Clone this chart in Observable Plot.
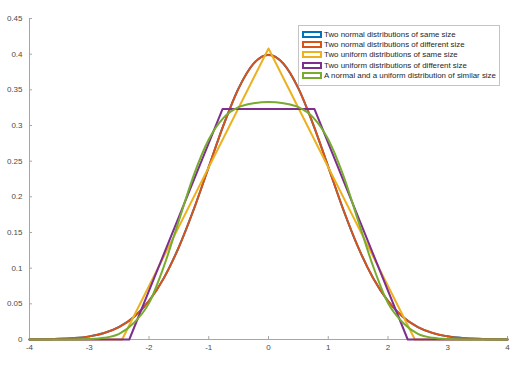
<!DOCTYPE html>
<html>
<head>
<meta charset="utf-8">
<script src="https://cdn.jsdelivr.net/npm/d3@7"></script>
<script src="https://cdn.jsdelivr.net/npm/@observablehq/plot@0.6"></script>
<style>
  html, body { margin: 0; padding: 0; background: #fff; }
  #wrap { position: relative; width: 520px; height: 366px; font-family: "Liberation Sans", Arial, sans-serif; }
  #legend { position: absolute; left: 298px; top: 25px; width: 202px; height: 61px; box-sizing: border-box;
            border: 1px solid #c4c4c4; background: #fff; padding: 3px 0 0 3px; }
  .row { display: flex; align-items: center; height: 10.4px; font-size: 7.9px; color: #262626; white-space: nowrap; }
  .sw { width: 20px; height: 7px; box-sizing: border-box; border: 2px solid; margin-right: 2px; flex: none; }
</style>
</head>
<body>
<div id="wrap"></div>
<script>
const seriesNames = [
  "Two normal distributions of same size",
  "Two normal distributions of different size",
  "Two uniform distributions of same size",
  "Two uniform distributions of different size",
  "A normal and a uniform distribution of similar size"
];
const seriesColors = ["#0072BD", "#D95319", "#EDB120", "#7E2F8E", "#77AC30"];

const xTicks = [-4, -3, -2, -1, 0, 1, 2, 3, 4];
const xTickLabels = ["-4", "-3", "-2", "-1", "0", "1", "2", "3", "4"];
const yTicks = [0, 0.05, 0.1, 0.15, 0.2, 0.25, 0.3, 0.35, 0.4, 0.45];
const yTickLabels = ["0", "0.05", "0.1", "0.15", "0.2", "0.25", "0.3", "0.35", "0.4", "0.45"];

// smooth curves sampled every 0.25
const xSmooth = [-4, -3.75, -3.5, -3.25, -3, -2.75, -2.5, -2.25, -2, -1.75, -1.5, -1.25, -1, -0.75, -0.5, -0.25,
                 0, 0.25, 0.5, 0.75, 1, 1.25, 1.5, 1.75, 2, 2.25, 2.5, 2.75, 3, 3.25, 3.5, 3.75, 4];
const yNormalSame = [0.0001, 0.0004, 0.0009, 0.002, 0.0044, 0.0091, 0.0176, 0.0318, 0.0541, 0.0864, 0.1297, 0.1827, 0.2419, 0.3012, 0.3522, 0.3868,
                     0.3992, 0.3866, 0.3520, 0.3010, 0.2421, 0.1825, 0.1294, 0.0862, 0.0539, 0.0316, 0.0175, 0.0090, 0.0044, 0.002, 0.0009, 0.0004, 0.0001];
const yNormalDiff = [0.0001, 0.0004, 0.0009, 0.002, 0.0044, 0.0091, 0.0175, 0.0317, 0.054, 0.0863, 0.1295, 0.1826, 0.242, 0.3011, 0.3521, 0.3867,
                     0.3989, 0.3867, 0.3521, 0.3011, 0.242, 0.1826, 0.1295, 0.0863, 0.054, 0.0317, 0.0175, 0.0091, 0.0044, 0.002, 0.0009, 0.0004, 0.0001];
const yNormalUniform = [0, 0, 0, 0.0001, 0.0006, 0.0023, 0.0079, 0.0235, 0.051, 0.1028, 0.1667, 0.2305, 0.2804, 0.3111, 0.3257, 0.3312,
                        0.333, 0.3312, 0.3257, 0.3111, 0.2804, 0.2305, 0.1667, 0.1028, 0.051, 0.0235, 0.0079, 0.0023, 0.0006, 0.0001, 0, 0, 0];

// piecewise-linear curves (corner points)
const xTriangle = [-4, -2.45, 0, 2.45, 4];
const yTriangle = [0, 0, 0.408, 0, 0];
const xTrapezoid = [-4, -2.33, -0.77, 0.77, 2.33, 4];
const yTrapezoid = [0, 0, 0.323, 0.323, 0, 0];

const toRows = (xs, ys) => xs.map((x, i) => ({x, y: ys[i]}));
const series = [
  {data: toRows(xSmooth, yNormalSame), curve: "monotone-x"},
  {data: toRows(xSmooth, yNormalDiff), curve: "monotone-x"},
  {data: toRows(xTriangle, yTriangle), curve: "linear"},
  {data: toRows(xTrapezoid, yTrapezoid), curve: "linear"},
  {data: toRows(xSmooth, yNormalUniform), curve: "monotone-x"}
];

const axisGray = "#a6a6a6";
const textGray = "#4a4a4a";

const chart = Plot.plot({
  width: 520,
  height: 366,
  marginLeft: 29,
  marginRight: 13,
  marginTop: 18,
  marginBottom: 27,
  style: {fontFamily: "'Liberation Sans', Arial, sans-serif", fontSize: "8px", background: "#fff"},
  x: {domain: [-4, 4], label: null},
  y: {domain: [0, 0.45], label: null},
  marks: [
    Plot.axisX({ticks: xTicks, tickSize: -3, stroke: axisGray, label: null, tickFormat: () => ""}),
    Plot.axisY({ticks: yTicks, tickSize: -3, stroke: axisGray, label: null, tickFormat: () => ""}),
    Plot.axisX({ticks: xTicks, tickSize: 0, tickPadding: 5, fill: textGray, label: null, tickFormat: d => xTickLabels[xTicks.indexOf(d)]}),
    Plot.axisY({ticks: yTicks, tickSize: 0, tickPadding: 7, fill: textGray, label: null, tickFormat: d => yTickLabels[yTicks.indexOf(d)]}),
    Plot.ruleY([0], {stroke: axisGray}),
    Plot.ruleX([-4], {stroke: axisGray}),
    ...series.map((s, i) => Plot.line(s.data, {x: "x", y: "y", stroke: seriesColors[i], strokeWidth: 2, curve: s.curve}))
  ]
});

const wrap = document.getElementById("wrap");
wrap.appendChild(chart);
const legend = document.createElement("div");
legend.id = "legend";
seriesNames.forEach((name, i) => {
  const row = document.createElement("div");
  row.className = "row";
  const sw = document.createElement("span");
  sw.className = "sw";
  sw.style.borderColor = seriesColors[i];
  const t = document.createElement("span");
  t.textContent = name;
  row.appendChild(sw);
  row.appendChild(t);
  legend.appendChild(row);
});
wrap.appendChild(legend);
</script>
</body>
</html>
